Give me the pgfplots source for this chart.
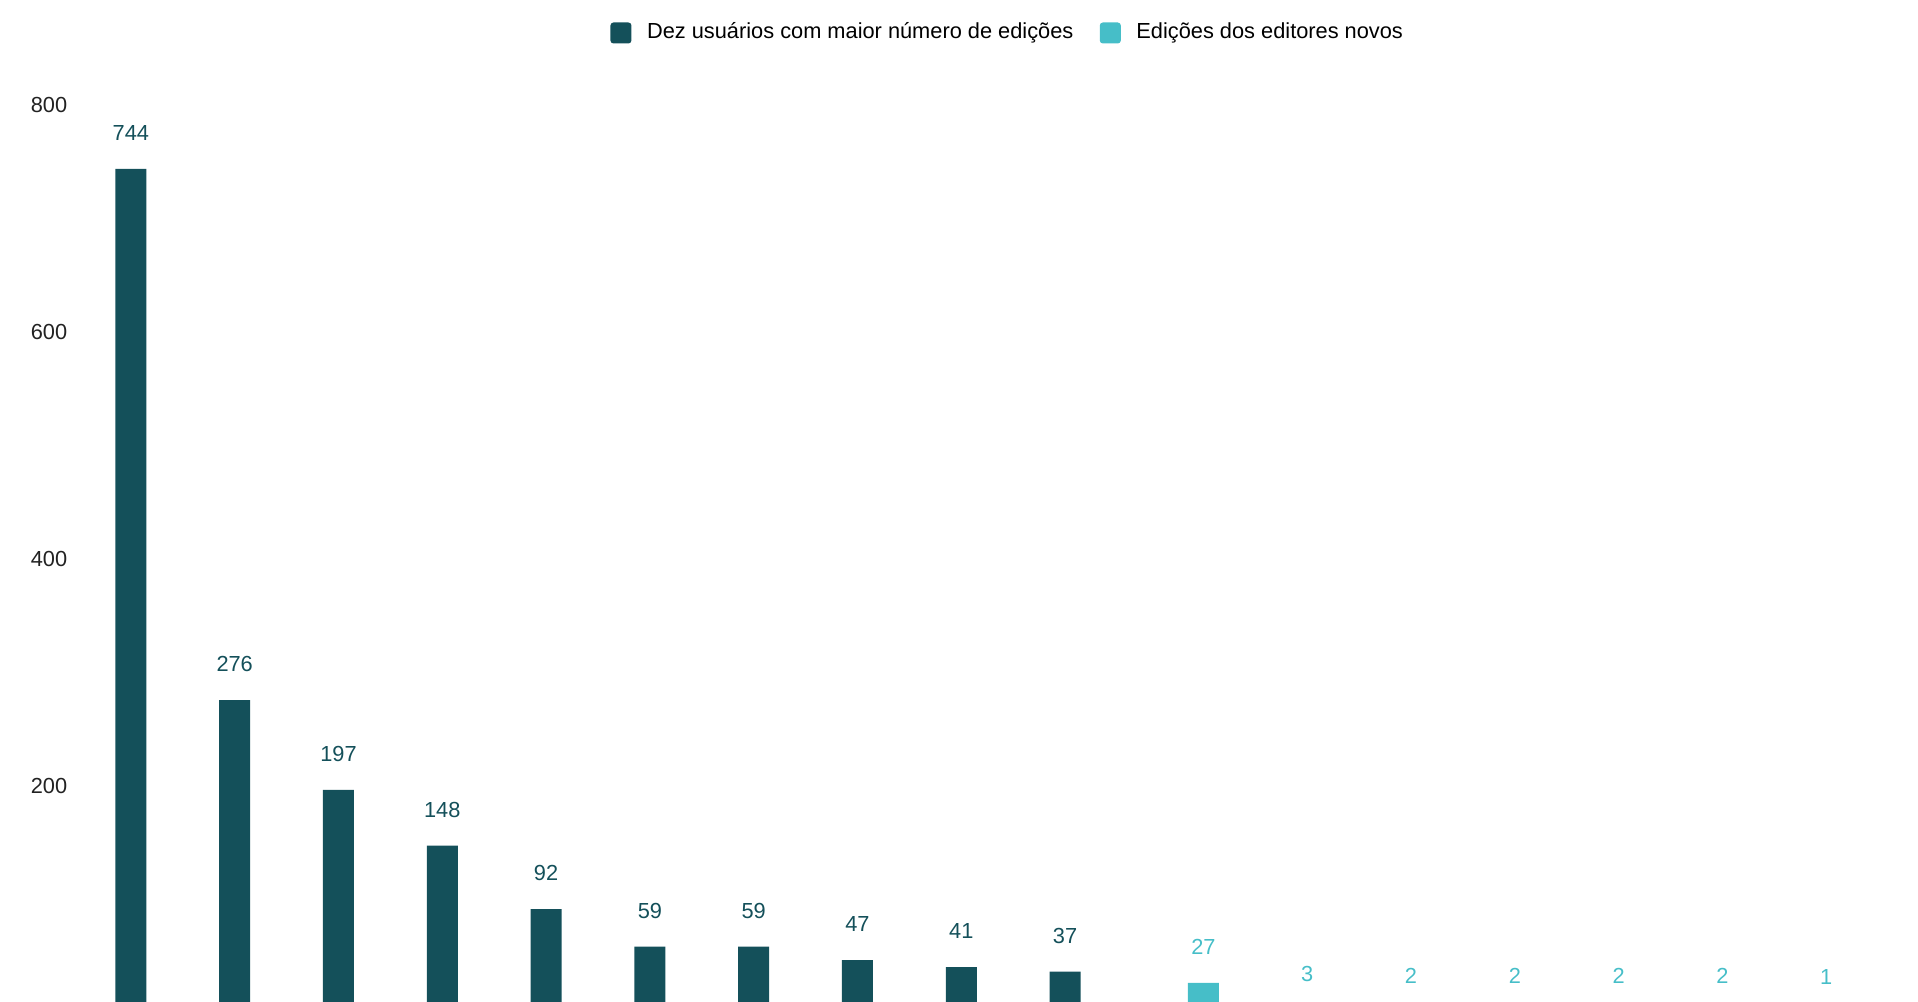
\documentclass[border=0pt]{standalone}
\usepackage{pgfplots}
\pgfplotsset{compat=1.18}
\usepackage{fontspec}
\setmainfont{Liberation Sans}
\definecolor{darkteal}{HTML}{14505A}
\definecolor{cyanbar}{HTML}{46BEC8}
\definecolor{ticktext}{HTML}{222222}
\begin{document}
\begin{tikzpicture}
\path[use as bounding box, clip] (0,0) rectangle (191.8mm,100.2mm);
\begin{axis}[
  at={(0mm,-1.16mm)}, anchor=south west,
  scale only axis, width=191.8mm, height=90.84mm,
  xmin=-1.261, xmax=17.217, ymin=0, ymax=800,
  axis line style={draw=none},
  major tick length=0pt,
  xtick=\empty,
  ytick={200,400,600,800},
  /pgf/number format/assume math mode=true,
  yticklabel style={anchor=center, xshift=4.9mm, font=\fontsize{6.2}{7.4}\selectfont, text=ticktext},
  ybar, bar width=3.1mm, bar shift=0pt,
  clip=false,
  nodes near coords,
  every node near coord/.append style={font=\fontsize{6.2}{7.4}\selectfont, inner sep=0pt, yshift=2.76mm},
  legend style={at={(0.5267,1.0795)}, anchor=center, draw=none, fill=none,
    font=\fontsize{6.2}{7.4}\selectfont, inner sep=0pt,
    /tikz/every odd column/.append style={column sep=0.86mm},
    /tikz/every even column/.append style={column sep=1.94mm}},
  legend columns=2,
  legend cell align=left,
]
\addplot[fill=darkteal, draw=none,
  every node near coord/.append style={text=darkteal},
  legend image code/.code={\fill[darkteal, rounded corners=0.3mm] (0mm,-1.05mm) rectangle (2.1mm,1.05mm);}]
  coordinates {(0,744) (1,276) (2,197) (3,148) (4,92) (5,59) (6,59) (7,47) (8,41) (9,37)};
\addlegendentry{Dez usuários com maior número de edições}
\addplot[fill=cyanbar, draw=none,
  every node near coord/.append style={text=cyanbar},
  legend image code/.code={\fill[cyanbar, rounded corners=0.3mm] (0mm,-1.05mm) rectangle (2.1mm,1.05mm);}]
  coordinates {(10.333,27) (11.333,3) (12.333,2) (13.333,2) (14.333,2) (15.333,2) (16.333,1)};
\addlegendentry{Edições dos editores novos}
\end{axis}
\end{tikzpicture}
\end{document}
